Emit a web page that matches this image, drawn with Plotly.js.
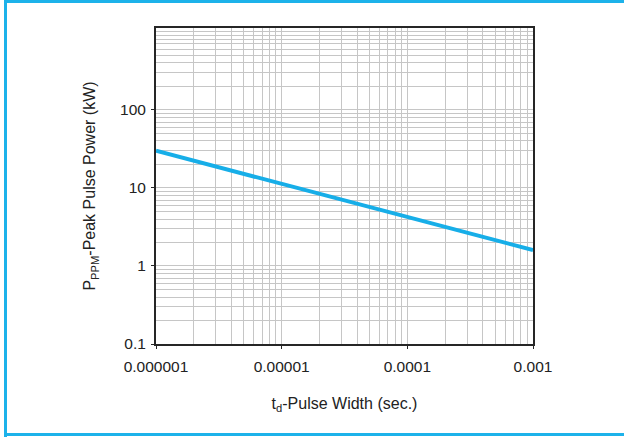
<!DOCTYPE html>
<html>
<head>
<meta charset="utf-8">
<script src="https://cdn.plot.ly/plotly-3.0.1.min.js"></script>
<style>
  html, body { margin: 0; padding: 0; background: #ffffff; overflow: hidden; }
  .bar { position: absolute; background: #1db2ea; }
  #chart { position: absolute; left: 0; top: 0; width: 624px; height: 437px; }
</style>
</head>
<body>
<div class="bar" style="left:4px; top:0px; width:620px; height:3px;"></div>
<div class="bar" style="left:4px; top:0px; width:3px; height:437px;"></div>
<div class="bar" style="left:4px; top:433px; width:620px; height:3px;"></div>
<div id="chart"></div>
<script>
// Pulse width (sec.)
const pulseWidth = [0.000001, 0.00001, 0.0001, 0.001];
// Peak pulse power (kW)
const peakPower = [30, 11.2, 4.2, 1.6];

const xTickVals = [0.000001, 0.00001, 0.0001, 0.001];
const xTickText = ['0.000001', '0.00001', '0.0001', '0.001'];
const yTickVals = [0.1, 1, 10, 100];
const yTickText = ['0.1', '1', '10', '100'];

const gridCol = '#c6c6c6';
const frameCol = '#262626';
const font = { family: 'Liberation Sans, Arial, sans-serif', size: 15, color: '#222222' };

const trace = {
  x: pulseWidth,
  y: peakPower,
  type: 'scatter',
  mode: 'lines',
  line: { color: '#17aee8', width: 4 },
  hoverinfo: 'skip'
};

const layout = {
  width: 624,
  height: 437,
  margin: { l: 156, r: 91, t: 28, b: 93 },
  paper_bgcolor: 'rgba(0,0,0,0)',
  plot_bgcolor: '#ffffff',
  showlegend: false,
  font: font,
  xaxis: {
    type: 'log',
    range: [-6, -3],
    tickvals: xTickVals,
    ticktext: xTickText,
    showgrid: true,
    gridcolor: gridCol,
    gridwidth: 1,
    minor: { showgrid: true, gridcolor: gridCol, gridwidth: 1, dtick: 'D1' },
    showline: true,
    mirror: true,
    linecolor: frameCol,
    linewidth: 2,
    ticks: 'outside',
    ticklen: 3,
    tickcolor: frameCol,
    ticklabelstandoff: 4,
    tickfont: { size: 15.5 },
    zeroline: false,
    title: { text: 't<sub>d</sub>-Pulse Width (sec.)', font: { size: 16 }, standoff: 24 },
    automargin: false
  },
  yaxis: {
    type: 'log',
    range: [-1, 3.05],
    tickvals: yTickVals,
    ticktext: yTickText,
    showgrid: true,
    gridcolor: gridCol,
    gridwidth: 1,
    minor: { showgrid: true, gridcolor: gridCol, gridwidth: 1, dtick: 'D1' },
    showline: true,
    mirror: true,
    linecolor: frameCol,
    linewidth: 2,
    ticks: 'outside',
    ticklen: 3,
    tickcolor: frameCol,
    ticklabelstandoff: 2,
    tickfont: { size: 15.5 },
    zeroline: false,
    title: { text: 'P<sub>PPM</sub>-Peak Pulse Power (kW)', font: { size: 16 }, standoff: 20 },
    automargin: false
  }
};

Plotly.newPlot('chart', [trace], layout, { staticPlot: true, displayModeBar: false });
</script>
</body>
</html>
